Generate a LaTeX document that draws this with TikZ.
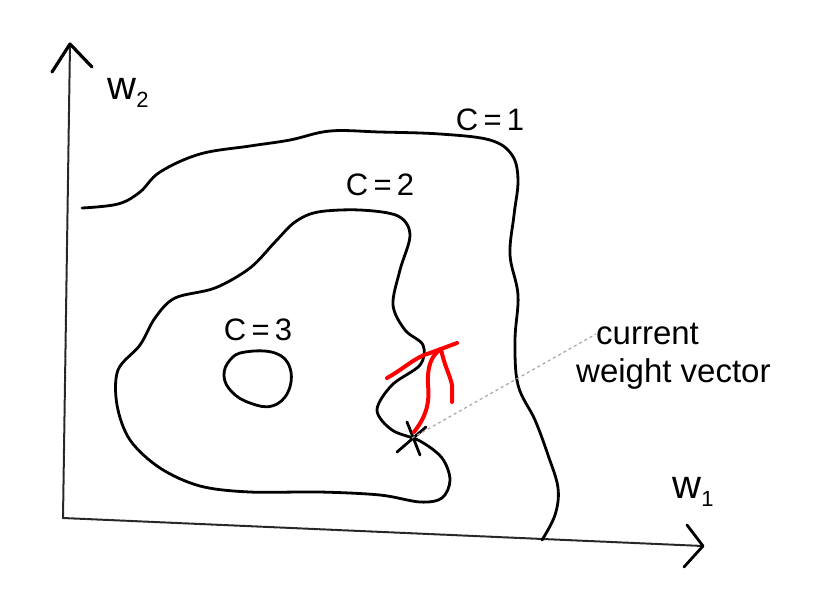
\documentclass[tikz,border=0pt]{standalone}
\usepackage{fontspec}
\setmainfont{Liberation Sans}
\begin{document}
\begin{tikzpicture}[x=1pt,y=-1pt,
  ink/.style={line width=2.8pt,line cap=round,line join=round,black},
  axisline/.style={line width=2pt,line cap=round,black!85,dash pattern=on 7pt off 1pt},
  redpen/.style={line width=4pt,line cap=round,line join=round,red},
  lbl/.style={font=\fontsize{31}{33}\selectfont,inner sep=0pt},
  axlbl/.style={font=\fontsize{40}{42}\selectfont,inner sep=0pt},
  note/.style={font=\fontsize{33}{35}\selectfont,inner sep=0pt,anchor=west},
  pointer/.style={line width=1.2pt,gray!70,dash pattern=on 3pt off 3pt}]
\useasboundingbox (0,0) rectangle (834,606);
% axes
\coordinate (O) at (63,518);
\coordinate (ytip) at (70,44);
\coordinate (xtip) at (703,546);
\draw[axisline] (O) -- (ytip);
\draw[axisline] (O) -- (xtip);
\draw[ink,line width=3.2pt] (52,72) -- (ytip) -- (92,67);
\draw[ink] (687,525) -- (xtip) -- (684,567);
\node[axlbl] (w2) at (128,93) {w\raisebox{-8pt}{\fontsize{22}{22}\selectfont 2}};
\node[axlbl] (w1) at (693,492) {w\raisebox{-8pt}{\fontsize{22}{22}\selectfont 1}};
% C=1 contour
\draw[ink] plot[smooth,tension=0.6] coordinates {
 (82,208) (118,204) (140,192) (160,172) (200,154) (250,146) (290,140)
 (330,131) (380,132) (440,134) (490,140) (512,155) (518,180)
 (514,215) (510,255) (518,295) (515,340) (518,385) (535,420)
 (548,455) (558,488) (555,515) (542,540)};
\node[lbl] (c1) at (490,120) {C\,=\,1};
% C=2 contour
\draw[ink] plot[smooth cycle,tension=0.55] coordinates {
 (318,212) (360,210) (398,216) (410,235) (400,270) (393,305)
 (405,330) (423,345) (420,365) (392,385) (377,410) (392,430)
 (420,441) (442,458) (450,480) (442,498) (420,502) (380,495)
 (320,492) (250,492) (200,486) (160,468) (130,440) (117,405)
 (118,370) (140,345) (155,318) (175,298) (215,288) (250,268)
 (275,242) (295,222)};
\node[lbl] (c2) at (380,185) {C\,=\,2};
% C=3 contour
\draw[ink] plot[smooth cycle,tension=0.7] coordinates {
 (245,352) (275,353) (290,368) (288,392) (272,406) (250,403)
 (232,392) (224,376) (230,360)};
\node[lbl] (c3) at (258,330) {C\,=\,3};
% current weight vector mark
\coordinate (star) at (412,438);
\draw[ink] (407,422) -- (420,455);
\draw[ink] (397,452) -- (426,427);
\node[note] (cur) at (596,334) {current};
\node[note] (wv) at (576,374) {weight vector};
\draw[pointer] (star) -- (cur.west);
% gradient step in red
\coordinate (tipR) at (441,349);
\draw[redpen] (414,432) .. controls (425,418) and (430,405) .. (428,385) .. controls (427,365) and (432,355) .. (tipR);
\draw[redpen] (tipR) .. controls (444,365) and (450,375) .. (452,385) -- (452,402);
\draw[redpen] (387,378) .. controls (405,368) and (415,357) .. (430,353) -- (457,343);
\end{tikzpicture}
\end{document}
